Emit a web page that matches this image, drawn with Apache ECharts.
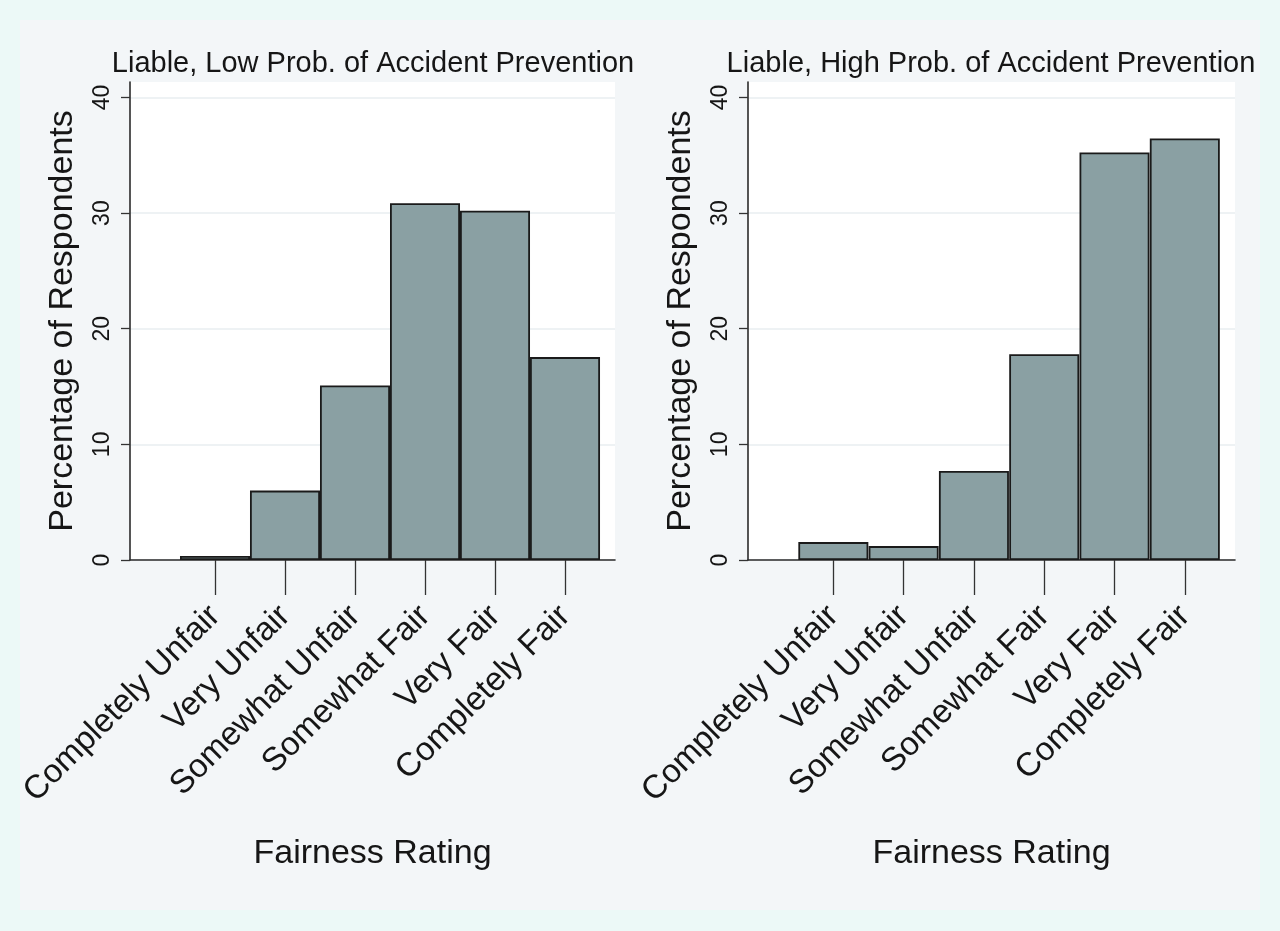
<!DOCTYPE html>
<html><head><meta charset="utf-8">
<script src="https://cdn.jsdelivr.net/npm/echarts@6/dist/echarts.min.js"></script>
<style>
html,body{margin:0;padding:0;background:#ecf9f7;overflow:hidden;}
#panel{position:absolute;left:20px;top:20px;width:1240px;height:890px;background:#f3f6f8;}
#chart{position:absolute;left:0;top:0;width:1280px;height:931px;}
</style></head><body>
<div id="panel"></div><div id="chart"></div>
<script>
const categories = ['Completely Unfair','Very Unfair','Somewhat Unfair','Somewhat Fair','Very Fair','Completely Fair'];
const lowProbValues = [0.35, 6.0, 15.1, 30.85, 30.2, 17.55];
const highProbValues = [1.55, 1.2, 7.7, 17.8, 35.25, 36.45];
const yTickValues = [0, 10, 20, 30, 40];
const xTickValues = [1, 2, 3, 4, 5, 6];
const panelTitles = ['Liable, Low Prob. of Accident Prevention', 'Liable, High Prob. of Accident Prevention'];
const xAxisTitle = 'Fairness Rating';
const yAxisTitle = 'Percentage of Respondents';

const FONT = '"Liberation Sans", Arial, Helvetica, sans-serif';
const TXT = '#161616';
const grids = [
  {left: 130, top: 82, width: 485, height: 478},
  {left: 748, top: 82, width: 487, height: 478}
];
const titleCenters = [368, 986];

function xAxisCfg(gi) {
  return {
    gridIndex: gi, type: 'value', min: -0.214, max: 6.714,
    axisLine: {show: true, onZero: false, lineStyle: {color: '#2b2b2b', width: 1.6}},
    axisTick: {show: true, length: 35, customValues: xTickValues, lineStyle: {color: '#333', width: 1.3}},
    axisLabel: {customValues: xTickValues, rotate: 45, margin: 51, fontSize: 33, color: TXT, fontFamily: FONT,
      formatter: v => categories[Math.round(v) - 1]},
    splitLine: {show: false},
    name: xAxisTitle, nameLocation: 'middle', nameGap: 277,
    nameTextStyle: {fontSize: 34, color: TXT, fontFamily: FONT}
  };
}
function yAxisCfg(gi) {
  return {
    gridIndex: gi, type: 'value', min: 0, max: 41.34, interval: 10,
    axisLine: {show: true, onZero: false, lineStyle: {color: '#2b2b2b', width: 1.6}},
    axisTick: {show: true, length: 9, customValues: yTickValues, lineStyle: {color: '#333', width: 1.3}},
    axisLabel: {customValues: yTickValues, rotate: 90, margin: 16, fontSize: 23, color: TXT, fontFamily: FONT},
    splitLine: {show: true, lineStyle: {color: '#e8eef0', width: 1.5}},
    name: yAxisTitle, nameLocation: 'middle', nameGap: 50,
    nameTextStyle: {fontSize: 34, color: TXT, fontFamily: FONT}
  };
}
function barSeries(gi, values) {
  return {
    type: 'bar', xAxisIndex: gi, yAxisIndex: gi, barWidth: 70,
    data: values.map((v, i) => [xTickValues[i], v]),
    itemStyle: {color: '#8aa0a3', borderColor: '#1a1a1a', borderWidth: 1.8},
    silent: true
  };
}

const chart = echarts.init(document.getElementById('chart'), null, {renderer: 'canvas'});
chart.setOption({
  backgroundColor: 'transparent',
  animation: false,
  title: panelTitles.map((t, i) => ({
    text: t, left: titleCenters[i], top: 44, textAlign: 'center',
    textStyle: {fontSize: 29, fontWeight: 'normal', color: TXT, fontFamily: FONT}
  })),
  grid: grids.map(g => Object.assign({show: true, backgroundColor: '#ffffff', borderWidth: 0}, g)),
  xAxis: [xAxisCfg(0), xAxisCfg(1)],
  yAxis: [yAxisCfg(0), yAxisCfg(1)],
  series: [barSeries(0, lowProbValues), barSeries(1, highProbValues)]
});
</script>
</body></html>
